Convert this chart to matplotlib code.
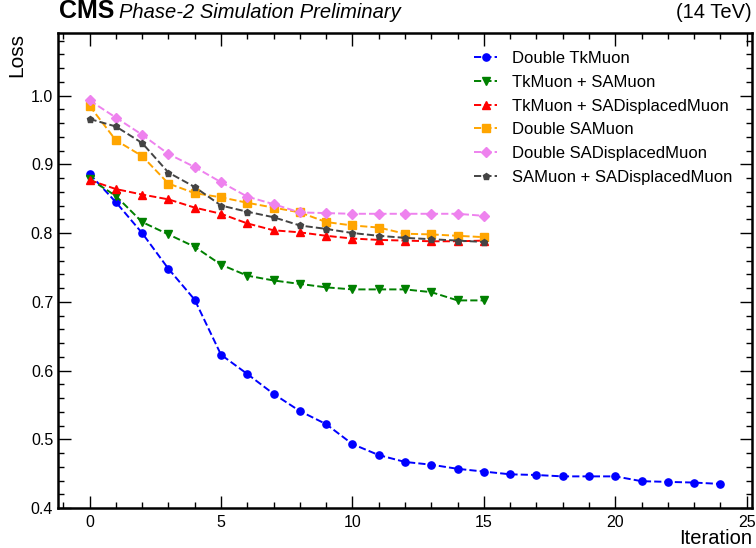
import numpy as np
import matplotlib
matplotlib.use('Agg')
import matplotlib.pyplot as plt
from matplotlib.ticker import MultipleLocator

plt.rcParams['font.family'] = ['Liberation Sans', 'DejaVu Sans']

iters_long = list(range(25))
iters_short = list(range(16))

double_tkmuon = [0.886, 0.845, 0.800, 0.748, 0.703, 0.623, 0.595, 0.566, 0.541, 0.522,
                 0.493, 0.477, 0.467, 0.463, 0.457, 0.453, 0.449, 0.448, 0.446, 0.446,
                 0.446, 0.439, 0.438, 0.437, 0.435]
tk_sa = [0.879, 0.854, 0.816, 0.798, 0.780, 0.754, 0.738, 0.731, 0.726, 0.721,
         0.718, 0.718, 0.718, 0.714, 0.702, 0.702]
tk_sadisp = [0.877, 0.864, 0.856, 0.849, 0.837, 0.828, 0.814, 0.804, 0.801, 0.796,
             0.792, 0.790, 0.789, 0.788, 0.788, 0.789]
double_sa = [0.985, 0.935, 0.912, 0.872, 0.858, 0.852, 0.844, 0.837, 0.830, 0.816,
             0.811, 0.808, 0.799, 0.798, 0.796, 0.794]
double_sadisp = [0.993, 0.968, 0.943, 0.915, 0.896, 0.874, 0.853, 0.842, 0.830, 0.829,
                 0.828, 0.828, 0.828, 0.828, 0.828, 0.825]
sa_sadisp = [0.966, 0.955, 0.931, 0.888, 0.867, 0.840, 0.831, 0.823, 0.811, 0.806,
             0.800, 0.796, 0.793, 0.791, 0.789, 0.787]

fig = plt.figure(figsize=(7.56, 5.48), dpi=100)
ax = fig.add_axes([58/756, 1 - 508/548, 694/756, (508 - 33)/548])

lw = 1.4
ax.plot(iters_long, double_tkmuon, '--', color='blue', marker='o', ms=5.2, lw=lw, label='Double TkMuon')
ax.plot(iters_short, tk_sa, '--', color='green', marker='v', ms=5.8, lw=lw, label='TkMuon + SAMuon')
ax.plot(iters_short, tk_sadisp, '--', color='red', marker='^', ms=5.8, lw=lw, label='TkMuon + SADisplacedMuon')
ax.plot(iters_short, double_sa, '--', color='orange', marker='s', ms=5.2, lw=lw, label='Double SAMuon')
ax.plot(iters_short, double_sadisp, '--', color='violet', marker='D', ms=5.2, lw=lw, label='Double SADisplacedMuon')
ax.plot(iters_short, sa_sadisp, '--', color='#444444', marker='p', ms=4.8, lw=lw, label='SAMuon + SADisplacedMuon')

ax.set_xlim(-1.2, 25.2)
ax.set_ylim(0.4, 1.091)
ax.xaxis.set_major_locator(MultipleLocator(5))
ax.xaxis.set_minor_locator(MultipleLocator(1))
ax.yaxis.set_major_locator(MultipleLocator(0.1))
ax.yaxis.set_minor_locator(MultipleLocator(0.02))
ax.yaxis.set_major_formatter(matplotlib.ticker.FormatStrFormatter('%.1f'))
ax.tick_params(which='both', direction='in', top=True, right=True, labelsize=11.5)
ax.tick_params(which='major', length=9, width=1)
ax.tick_params(which='minor', length=4.5, width=1)
ax.tick_params(axis='x', pad=5)
for s in ax.spines.values():
    s.set_linewidth(1.8)

ax.set_xlabel('Iteration', loc='right', fontsize=14.5, labelpad=-1)
ax.set_ylabel('Loss', loc='top', fontsize=15, labelpad=3)

ax.legend(loc='upper right', bbox_to_anchor=(0.994, 0.993), frameon=False, fontsize=12,
          handlelength=1.4, handletextpad=0.9, labelspacing=0.52)

fig.text(59/756, 1 - 17.5/548, 'CMS', fontsize=18, fontweight='bold', va='baseline', ha='left')
fig.text(119/756, 1 - 17.5/548, 'Phase-2 Simulation Preliminary', fontsize=14.5, style='italic',
         va='baseline', ha='left')
fig.text(752/756, 1 - 17.5/548, '(14 TeV)', fontsize=14.5, va='baseline', ha='right')

fig.savefig('out.png', dpi=100)
